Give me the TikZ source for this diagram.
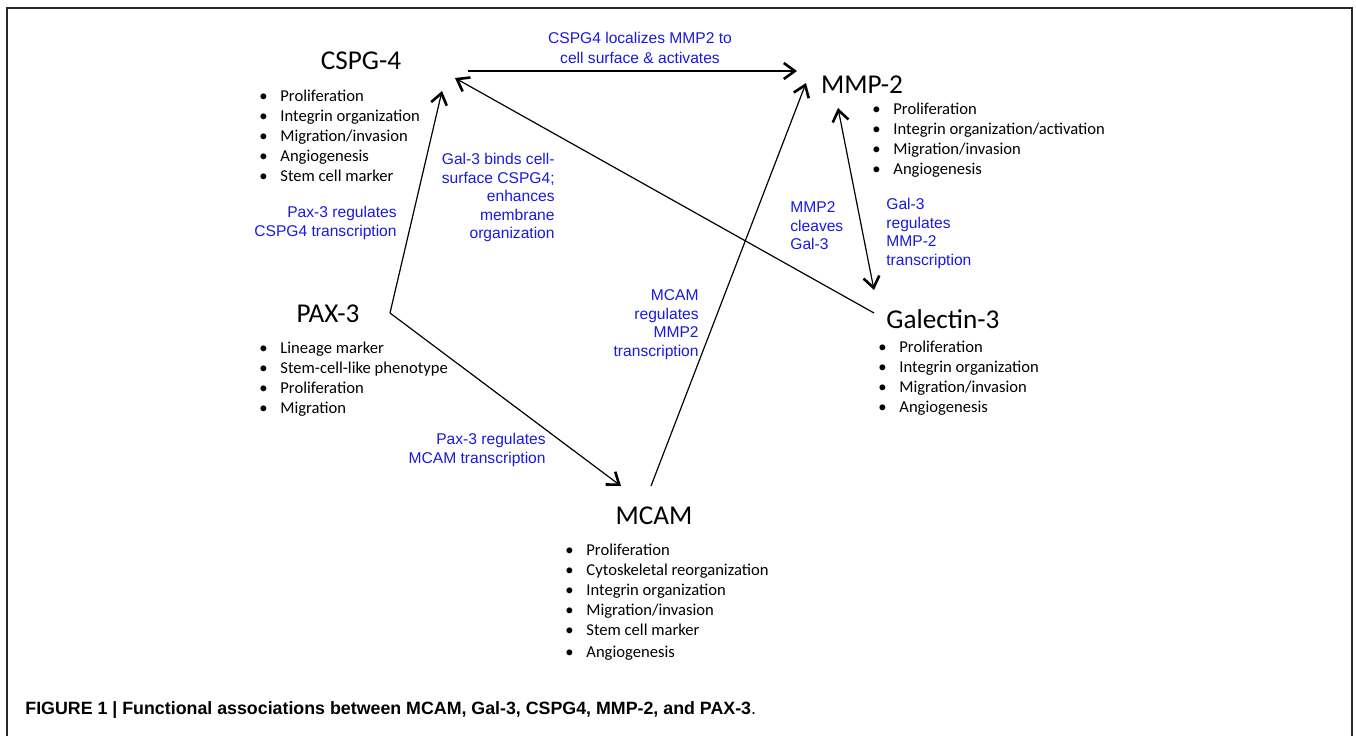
\documentclass[tikz,border=0pt]{standalone}
\usepackage{fontspec}
\setmainfont{Carlito}
\newfontfamily\arialf{Liberation Sans}
\usetikzlibrary{arrows.meta}
\definecolor{lblue}{RGB}{25,25,225}
\definecolor{framegray}{RGB}{40,40,40}
\newcommand\bul{\makebox[10.5pt][l]{•}}
\begin{document}
\begin{tikzpicture}[x=0.5pt,y=-0.5pt,
  title/.style={font=\fontsize{13.6}{16}\selectfont, inner sep=0, anchor=base},
  blist/.style={font=\fontsize{8.3}{10}\selectfont, inner sep=0, anchor=base west},
  lab/.style={font=\arialf\fontsize{7.8}{9.25}\selectfont, text=lblue, inner sep=0},
  conn/.style={line width=0.6pt},
  tipA/.tip={Straight Barb[length=5.5pt,width=8pt,line width=1.3pt]},
  arr/.style={conn, -tipA},
  dblarr/.style={conn, tipA-tipA}
]
\useasboundingbox (0,0) rectangle (1356,736);
% frame
\draw[framegray, line width=1pt] (7,736) -- (7,8) -- (1352,8) -- (1352,736);

% titles
\node[title] (cspg) at (361,69) {CSPG-4};
\node[title] (mmp) at (862,93) {MMP-2};
\node[title] (gal) at (943,328) {Galectin-3};
\node[title] (pax) at (328,322) {PAX-3};
\node[title] (mcam) at (654,524) {MCAM};

% bullet lists
\node[blist] (cspgL) at (259,101) {\begin{tabular}[t]{@{}l@{}}
\bul Proliferation\\ \bul Integrin organization\\ \bul Migration/invasion\\ \bul Angiogenesis\\ \bul Stem cell marker\end{tabular}};
\node[blist] (mmpL) at (872,114) {\begin{tabular}[t]{@{}l@{}}
\bul Proliferation\\ \bul Integrin organization/activation\\ \bul Migration/invasion\\ \bul Angiogenesis\end{tabular}};
\node[blist] (galL) at (878,352) {\begin{tabular}[t]{@{}l@{}}
\bul Proliferation\\ \bul Integrin organization\\ \bul Migration/invasion\\ \bul Angiogenesis\end{tabular}};
\node[blist] (paxL) at (259,353) {\begin{tabular}[t]{@{}l@{}}
\bul Lineage marker\\ \bul Stem-cell-like phenotype\\ \bul Proliferation\\ \bul Migration\end{tabular}};
\node[blist] (mcamL) at (565,555) {\begin{tabular}[t]{@{}l@{}}
\bul Proliferation\\ \bul Cytoskeletal reorganization\\ \bul Integrin organization\\ \bul Migration/invasion\\ \bul Stem cell marker\\[1pt] \bul Angiogenesis\end{tabular}};

% blue labels
\node[lab, anchor=base, font=\arialf\fontsize{7.8}{10}\selectfont] (l1) at (640,43.5) {\begin{tabular}[t]{@{}c@{}}CSPG4 localizes MMP2 to\\ cell surface \& activates\end{tabular}};
\node[lab, anchor=base east] (l2) at (397,217.5) {\begin{tabular}[t]{@{}r@{}}Pax-3 regulates\\ CSPG4 transcription\end{tabular}};
\node[lab, anchor=base east] (l3) at (555,164.5) {\begin{tabular}[t]{@{}r@{}}Gal-3 binds cell-\\ surface CSPG4;\\ enhances\\ membrane\\ organization\end{tabular}};
\node[lab, anchor=base west] (l4) at (790,212.5) {\begin{tabular}[t]{@{}l@{}}MMP2\\ cleaves\\ Gal-3\end{tabular}};
\node[lab, anchor=base west] (l5) at (886,209.5) {\begin{tabular}[t]{@{}l@{}}Gal-3\\ regulates\\ MMP-2\\ transcription\end{tabular}};
\node[lab, anchor=base east] (l6) at (699,300.5) {\begin{tabular}[t]{@{}r@{}}MCAM\\ regulates\\ MMP2\\ transcription\end{tabular}};
\node[lab, anchor=base east] (l7) at (546,444.5) {\begin{tabular}[t]{@{}r@{}}Pax-3 regulates\\ MCAM transcription\end{tabular}};

% caption
\node[inner sep=0, anchor=base west, font=\arialf\fontsize{8.9}{10}\selectfont] (cap) at (25,714)
  {\textbf{FIGURE 1 | Functional associations between MCAM, Gal-3, CSPG4, MMP-2, and PAX-3}.};

% connector end points
\coordinate (cspgR) at (468,71);
\coordinate (mmpL0) at (797,71);
\coordinate (paxV) at (390,313);
\coordinate (cspgB) at (442,91);
\coordinate (mcamT) at (621,486);
\coordinate (mcamS) at (651,486);
\coordinate (mmpB) at (806,83);
\coordinate (galS) at (874,313);
\coordinate (cspgE) at (455,78);
\coordinate (mmpD) at (838,108);
\coordinate (galT) at (874,290);

\draw[arr, line width=1pt] (cspgR) -- (mmpL0);
\draw[arr] (paxV) -- (cspgB);
\draw[arr] (paxV) -- (mcamT);
\draw[arr] (mcamS) -- (mmpB);
\draw[arr] (galS) -- (cspgE);
\draw[dblarr] (mmpD) -- (galT);
\end{tikzpicture}
\end{document}
